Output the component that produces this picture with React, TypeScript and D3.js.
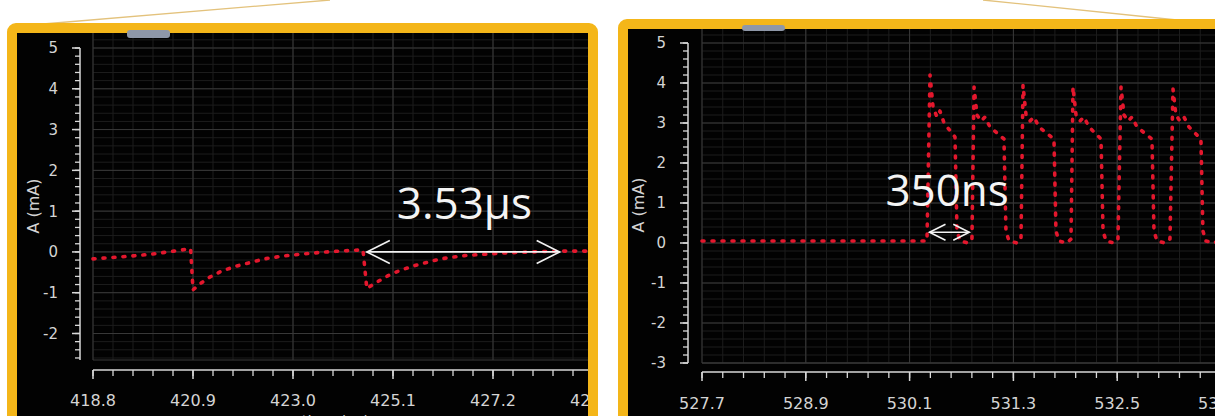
import React from "react";
import * as d3 from "d3";

// left capture: slow decay pulses (µs, mA)
const leftTime = [
  418.8, 419.4, 420.0, 420.5, 420.85, 420.9, 421.05, 421.25, 421.5, 421.8, 422.1, 422.4,
  422.8, 423.2, 423.7, 424.1, 424.47, 424.55, 424.7, 425.0, 425.25, 425.6, 426.1, 426.6,
  427.35, 428.0, 428.6, 429.5,
];
const leftCurrent = [
  -0.17, -0.12, -0.06, 0.02, 0.08, -0.93, -0.78, -0.62, -0.47, -0.35, -0.26, -0.17,
  -0.1, -0.05, 0.0, 0.03, 0.05, -0.9, -0.78, -0.58, -0.45, -0.32, -0.17, -0.09,
  -0.03, 0.0, 0.02, 0.02,
];

// right capture: pulse train (µs, mA)
const rightTime = [
  527.7, 530.301,
  530.336, 530.371, 530.417, 530.451, 530.498, 530.625, 530.648, 530.683, 530.775, 530.821,
  530.845, 530.879, 530.925, 530.972, 531.029, 531.191, 531.214, 531.249, 531.342, 531.388,
  531.411, 531.446, 531.492, 531.538, 531.596, 531.769, 531.792, 531.827, 531.92, 531.966,
  531.989, 532.024, 532.07, 532.116, 532.174, 532.313, 532.336, 532.371, 532.463, 532.509,
  532.544, 532.579, 532.625, 532.671, 532.729, 532.902, 532.925, 532.96, 533.052, 533.11,
  533.145, 533.179, 533.225, 533.272, 533.33, 533.468, 533.491, 533.526, 533.618, 533.711,
];
const rightCurrent = [
  0.05, 0.05,
  4.2, 3.4, 3.15, 3.3, 3.0, 2.65, 0.3, 0.05, 0.0, 0.1,
  3.9, 3.2, 3.05, 3.15, 2.9, 2.6, 0.3, 0.05, 0.0, 0.1,
  3.95, 3.2, 3.05, 3.15, 2.9, 2.6, 0.3, 0.05, 0.0, 0.1,
  3.9, 3.2, 3.05, 3.15, 2.9, 2.6, 0.3, 0.05, 0.0, 0.1,
  3.9, 3.2, 3.05, 3.15, 2.9, 2.6, 0.3, 0.05, 0.0, 0.1,
  3.85, 3.2, 3.05, 3.15, 2.9, 2.6, 0.3, 0.05, 0.0, 0.1,
];

const leftTickLabels = ["418.8", "420.9", "423.0", "425.1", "427.2", "429.3"];
const rightTickLabels = ["527.7", "528.9", "530.1", "531.3", "532.5", "533.7"];
const leftAmpTicks = [-2, -1, 0, 1, 2, 3, 4, 5];
const rightAmpTicks = [-3, -2, -1, 0, 1, 2, 3, 4, 5];

const leftSpan = [424.55, 428.6];
const leftSpanLabel = "3.53µs";
const rightSpan = [530.33, 530.79];
const rightSpanLabel = "350ns";

const ORANGE = "#f4b619";
const RED = "#e3172d";

const panels = [
  {
    id: "l",
    outer: { x: 12, y: 28, w: 581, h: 400 },
    inner: { x: 17, y: 33, w: 571, h: 390 },
    tab: { x: 127, y: 30, w: 43, h: 8 },
    xDomain: [418.8, 429.3], xRange: [93, 593],
    yDomain: [-2.65, 5], yRange: [360, 48],
    axisX: 80, axisY: 370, labelBase: 406, titleX: 33, xTitle: "time (µs)",
    labels: leftTickLabels, amps: leftAmpTicks,
    time: leftTime, current: leftCurrent,
    span: leftSpan, spanY: 0, spanLabel: leftSpanLabel, labelAt: [425.18, 219], head: 23,
  },
  {
    id: "r",
    outer: { x: 623, y: 24, w: 620, h: 410 },
    inner: { x: 628, y: 28, w: 600, h: 400 },
    tab: { x: 742, y: 25, w: 43, h: 6 },
    xDomain: [527.7, 533.7], xRange: [702, 1221],
    yDomain: [-3, 5], yRange: [363, 43],
    axisX: 688, axisY: 372, labelBase: 409, titleX: 638, xTitle: "",
    labels: rightTickLabels, amps: rightAmpTicks,
    time: rightTime, current: rightCurrent,
    span: rightSpan, spanY: 0.27, spanLabel: rightSpanLabel, labelAt: [529.82, 206], head: 16,
  },
];

function Panel({ p }: { p: any }) {
  const x = d3.scaleLinear().domain(p.xDomain).range(p.xRange);
  const y = d3.scaleLinear().domain(p.yDomain).range(p.yRange);
  const right = p.inner.x + p.inner.w;
  const left = p.xRange[0];
  const bottom = p.yRange[0];
  const top = p.inner.y;

  const xMajor = p.labels.map(Number);
  const step = (xMajor[1] - xMajor[0]) / 5;
  const xMinor = d3.range(0, 31).map((i) => xMajor[0] + i * step).filter((v) => x(v) <= right + 1);
  const yMinor = d3.range(Math.ceil(p.yDomain[0] * 5), p.yDomain[1] * 5 + 1).map((k) => k / 5);
  const yGrid = d3.range(Math.ceil(p.yDomain[0] * 5), 31).map((k) => k / 5).filter((v) => y(v) >= top);

  const pts = p.time.map((t: number, i: number) => [t, p.current[i]]);
  const line = d3.line<number[]>().x((d) => x(d[0])).y((d) => y(d[1]));

  const a0 = x(p.span[0]);
  const a1 = x(p.span[1]);
  const ay = y(p.spanY);
  const h = p.head;
  const hy = h * 0.5;

  return (
    <g>
      <clipPath id={`clip-${p.id}`}>
        <rect x={p.inner.x} y={p.inner.y} width={p.inner.w} height={p.inner.h} />
      </clipPath>
      <g clipPath={`url(#clip-${p.id})`}>
        <rect x={p.inner.x} y={p.inner.y} width={p.inner.w} height={p.inner.h} fill="#020202" />
        {xMinor.map((v, i) => (
          <line key={"xm" + i} x1={x(v)} x2={x(v)} y1={top} y2={bottom} stroke="#1d1d1d" />
        ))}
        {yGrid.map((v, i) => (
          <line key={"ym" + i} x1={left} x2={right} y1={y(v)} y2={y(v)} stroke="#1d1d1d" />
        ))}
        {xMajor.map((v: number, i: number) => (
          <line key={"xg" + i} x1={x(v)} x2={x(v)} y1={top} y2={bottom} stroke="#393939" />
        ))}
        {d3.range(Math.ceil(p.yDomain[0]), 6).map((v) => (
          <line key={"yg" + v} x1={left} x2={right} y1={y(v)} y2={y(v)} stroke="#393939" />
        ))}
        <line x1={left} x2={right} y1={bottom} y2={bottom} stroke="#393939" />

        {/* y axis */}
        <line x1={p.axisX} x2={p.axisX} y1={y(5)} y2={bottom} stroke="#d8d8d8" strokeWidth={1.5} />
        {yMinor.map((v, i) => (
          <line key={"yt" + i} x1={p.axisX - 5} x2={p.axisX} y1={y(v)} y2={y(v)} stroke="#d8d8d8" strokeWidth={1.3} />
        ))}
        {p.amps.map((v: number) => (
          <g key={"yl" + v}>
            <line x1={p.axisX - 8} x2={p.axisX} y1={y(v)} y2={y(v)} stroke="#d8d8d8" strokeWidth={1.5} />
            <text x={p.axisX - 22} y={y(v)} dy="0.36em" textAnchor="end" fill="#d4d4d4"
              fontFamily="DejaVu Sans" fontSize={15}>{v}</text>
          </g>
        ))}
        <text transform={`translate(${p.titleX},${(y(5) + bottom) / 2 + 2}) rotate(-90)`} textAnchor="middle"
          fill="#d4d4d4" fontFamily="DejaVu Sans" fontSize={16} dy="0.35em">A (mA)</text>

        {/* x axis */}
        <line x1={left} x2={right} y1={p.axisY} y2={p.axisY} stroke="#d8d8d8" strokeWidth={1.5} />
        {xMinor.map((v, i) => (
          <line key={"xt" + i} x1={x(v)} x2={x(v)} y1={p.axisY} y2={p.axisY + 6} stroke="#d8d8d8" strokeWidth={1.3} />
        ))}
        {xMajor.map((v: number, i: number) => (
          <g key={"xl" + i}>
            <line x1={x(v)} x2={x(v)} y1={p.axisY} y2={p.axisY + 9} stroke="#d8d8d8" strokeWidth={1.5} />
            <text x={x(v)} y={p.labelBase} textAnchor="middle" fill="#d4d4d4"
              fontFamily="DejaVu Sans" fontSize={16}>{p.labels[i]}</text>
          </g>
        ))}
        {p.xTitle && (
          <text x={(left + right) / 2 - 5} y={427} textAnchor="middle" fill="#d4d4d4"
            fontFamily="DejaVu Sans" fontSize={15}>{p.xTitle}</text>
        )}

        {/* trace */}
        <path d={line(pts) || ""} fill="none" stroke={RED} strokeWidth={3.6}
          strokeDasharray="2 8" strokeLinecap="round" strokeLinejoin="round" />

        {/* span marker */}
        <g stroke="#f2f2f2" strokeWidth={1.6} fill="none">
          <line x1={a0} x2={a1} y1={ay} y2={ay} />
          <polyline points={`${a0 + h},${ay - hy} ${a0},${ay} ${a0 + h},${ay + hy}`} />
          <polyline points={`${a1 - h},${ay - hy} ${a1},${ay} ${a1 - h},${ay + hy}`} />
        </g>
        <text x={x(p.labelAt[0])} y={p.labelAt[1]} fill="#f4f4f4" fontFamily="Open Sans"
          fontSize={44}>{p.spanLabel}</text>
      </g>
      <rect x={p.outer.x} y={p.outer.y} width={p.outer.w} height={p.outer.h} rx={4}
        fill="none" stroke={ORANGE} strokeWidth={10} />
      <rect x={p.tab.x} y={p.tab.y} width={p.tab.w} height={p.tab.h} rx={3} fill="#8e97a8" />
    </g>
  );
}

export default function App() {
  return (
    <svg width={1215} height={416} style={{ position: "absolute", left: 0, top: 0, background: "#fff" }}>
      <line x1={43} y1={24} x2={330} y2={0} stroke="#e3c27c" strokeWidth={1.3} />
      <line x1={983} y1={0} x2={1177} y2={20} stroke="#e3c27c" strokeWidth={1.3} />
      {panels.map((p) => (
        <Panel key={p.id} p={p} />
      ))}
    </svg>
  );
}
